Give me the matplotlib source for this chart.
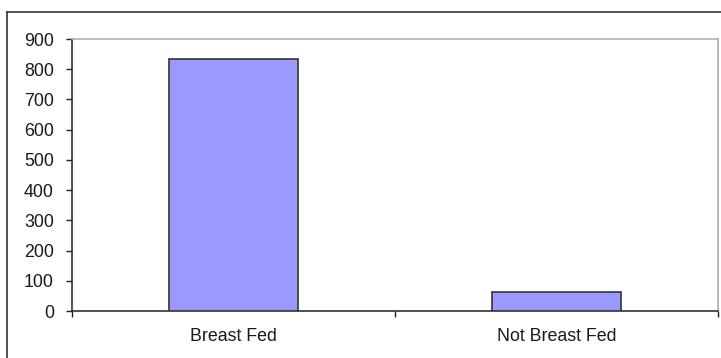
import matplotlib
matplotlib.use("Agg")
import matplotlib.pyplot as plt
from matplotlib.lines import Line2D

categories = ["Breast Fed", "Not Breast Fed"]
values = [835, 63]
y_ticks = [0, 100, 200, 300, 400, 500, 600, 700, 800, 900]

W, H = 721, 358
fig = plt.figure(figsize=(W / 100, H / 100), dpi=100)
plt.rcParams['font.family'] = ['Liberation Sans', 'DejaVu Sans']

ax = fig.add_axes([72 / W, 1 - 311 / H, (718 - 72) / W, (311 - 39) / H])
x = list(range(len(categories)))
ax.bar(x, values, width=0.4, color="#9999FF", edgecolor="#333333", linewidth=1.2, zorder=3)

ax.set_xlim(-0.5, len(categories) - 0.5)
ax.set_ylim(0, 900)
ax.set_yticks(y_ticks)
ax.set_yticklabels([str(v) for v in y_ticks], fontsize=12.8, color="#1a1a1a")
ax.set_xticks(x)
ax.set_xticklabels(categories, fontsize=12.8, color="#1a1a1a")
ax.set_xticks([i - 0.5 for i in range(len(categories) + 1)], minor=True)
ax.tick_params(axis="x", which="major", length=0, pad=12)
ax.tick_params(axis="x", which="minor", length=4, width=1, direction="out", color="#222222")
ax.tick_params(axis="y", length=4, width=1, direction="out", pad=9, color="#222222")

for s in ["left", "bottom"]:
    ax.spines[s].set_color("#222222")
    ax.spines[s].set_linewidth(1.1)
for s in ["top", "right"]:
    ax.spines[s].set_color("#b0b0b0")
    ax.spines[s].set_linewidth(1.2)

# outer chart border (clipped at right/bottom in the reference)
fig.add_artist(Line2D([7 / W, 7 / W], [0, 1 - 12 / H], transform=fig.transFigure, color="#333333", linewidth=1.2))
fig.add_artist(Line2D([7 / W, 1.0], [1 - 12 / H, 1 - 12 / H], transform=fig.transFigure, color="#333333", linewidth=1.2))

fig.savefig("out.png", dpi=100)
